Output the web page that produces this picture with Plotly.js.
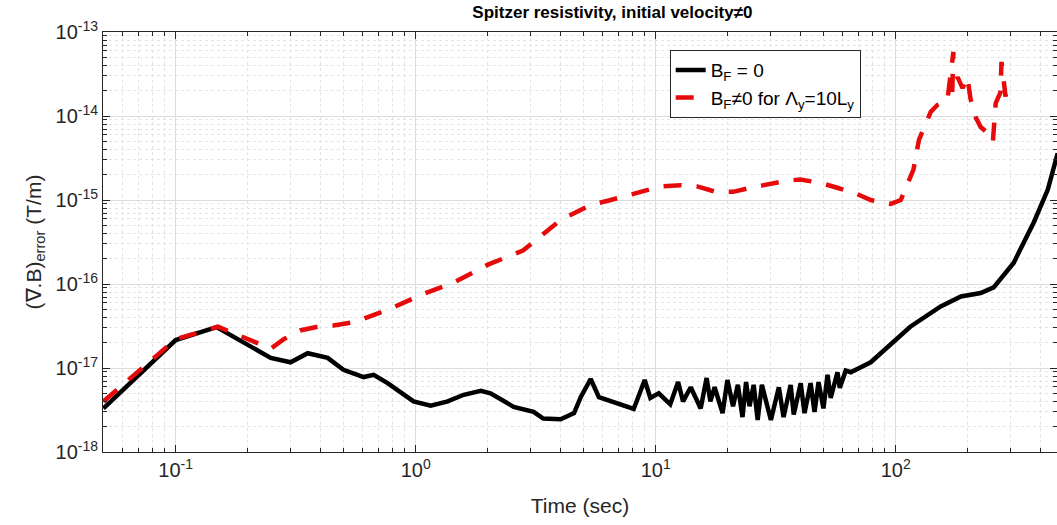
<!DOCTYPE html>
<html><head><meta charset="utf-8">
<script src="https://cdn.plot.ly/plotly-3.0.1.min.js"></script>
<style>html,body{margin:0;padding:0;background:#fff}#chart{width:1057px;height:525px}</style>
</head><body><div id="chart"></div>
<script>
// B_F = 0 (black solid)
const timeBF0 = [0.05, 0.1, 0.148, 0.249, 0.301, 0.355, 0.43, 0.5, 0.607, 0.668, 0.764, 0.98, 1.155, 1.36, 1.585, 1.87, 2.05, 2.56, 3.1, 3.4, 4.02, 4.57, 4.87, 5.36, 5.8, 6.5, 8.1, 9.0, 9.5, 10.3, 11.5, 12.4, 13.0, 14.0,
  15.4, 16.3, 16.9, 17.6, 19.0, 19.9, 21.0, 22.0, 23.0, 23.8, 24.6, 25.6, 26.6, 27.7, 30.2, 32.6, 34.1, 36.5, 37.6, 40.2, 41.7, 44.2, 45.9, 47.7, 50.0, 52.0, 53.6, 57.2, 58.5, 61.9, 65,
  78.7, 100, 115, 154, 187, 226, 256, 310, 376, 430, 473];
const errBF0 = [3.3e-18, 2.15e-17, 3.07e-17, 1.32e-17, 1.17e-17, 1.5e-17, 1.32e-17, 9.5e-18, 7.8e-18, 8.3e-18, 6.6e-18, 4.0e-18, 3.55e-18, 4.0e-18, 4.8e-18, 5.35e-18, 5.0e-18, 3.45e-18, 3.0e-18, 2.5e-18, 2.45e-18, 2.9e-18, 4.5e-18, 7.4e-18, 4.5e-18, 4.0e-18, 3.25e-18, 7.2e-18, 4.4e-18, 5.0e-18, 3.7e-18, 6.8e-18, 4.0e-18, 5.9e-18,
  3.3e-18, 7.6e-18, 4.0e-18, 5.9e-18, 2.9e-18, 7.2e-18, 3.5e-18, 6.3e-18, 2.6e-18, 6.8e-18, 3.5e-18, 6.3e-18, 2.4e-18, 6.3e-18, 2.4e-18, 5.9e-18, 2.6e-18, 6.3e-18, 2.8e-18, 6.6e-18, 2.9e-18, 6.6e-18, 3.0e-18, 6.8e-18, 3.3e-18, 8.3e-18, 4.4e-18, 8.9e-18, 5.8e-18, 9.3e-18, 8.9e-18,
  1.17e-17, 2.15e-17, 3.1e-17, 5.4e-17, 7.1e-17, 7.8e-17, 9.1e-17, 1.78e-16, 5.4e-16, 1.32e-15, 3.6e-15];

// B_F != 0 for Lambda_y = 10 L_y (red dashed)
const timeBF = [0.05, 0.1, 0.15, 0.249, 0.282, 0.33, 0.40, 0.455, 0.55, 0.764, 1.05, 1.44, 2.0, 2.8, 4.02, 5.36, 6.5, 9.3, 10.5, 12.7, 14.9, 17.8, 21, 24.9, 29.2, 35.4, 40, 48.6, 57, 68, 78.7, 95.5, 105, 118.6, 125, 140, 149, 164, 174, 172, 181, 190, 199, 205, 216, 226, 241, 254, 261, 273, 276, 287, 291];
const errBF = [4.0e-18, 2.2e-17, 3.1e-17, 1.7e-17, 2.2e-17, 2.8e-17, 3.15e-17, 3.2e-17, 3.5e-17, 4.9e-17, 7.4e-17, 1.04e-16, 1.7e-16, 2.5e-16, 5.8e-16, 8.7e-16, 1.0e-15, 1.35e-15, 1.45e-15, 1.5e-15, 1.45e-15, 1.25e-15, 1.25e-15, 1.4e-15, 1.55e-15, 1.7e-15, 1.75e-15, 1.6e-15, 1.4e-15, 1.2e-15, 1.0e-15, 0.9e-15, 1.0e-15, 2.3e-15, 5.2e-15, 1.12e-14, 1.35e-14, 1.5e-14, 5.8e-14, 1.9e-14, 2.9e-14, 2.15e-14, 2.9e-14, 1.6e-14, 9.5e-15, 7.4e-15, 6.3e-15, 4.9e-15, 1.42e-14, 1.9e-14, 4.4e-14, 1.7e-14, 2.5e-14];

const xTickVals = [0.1, 1, 10, 100];
const xTickText = ['10<sup>-1</sup>', '10<sup>0</sup>', '10<sup>1</sup>', '10<sup>2</sup>'];
const yTickVals = [1e-18, 1e-17, 1e-16, 1e-15, 1e-14, 1e-13];
const yTickText = ['10<sup>-18</sup>', '10<sup>-17</sup>', '10<sup>-16</sup>', '10<sup>-15</sup>', '10<sup>-14</sup>', '10<sup>-13</sup>'];

// minor (2..9 per decade) positions for the log grid
function minorVals(e0, e1) {
  const out = [];
  for (let e = e0; e <= e1; e++) for (let m = 2; m <= 9; m++) out.push(m * Math.pow(10, e));
  return out;
}

const FONT = 'Liberation Sans, Arial, sans-serif';
const traces = [
  {x: timeBF0, y: errBF0, type: 'scatter', mode: 'lines', name: 'B<sub>F</sub> = 0',
   line: {color: '#000000', width: 4.5}},
  {x: timeBF, y: errBF, type: 'scatter', mode: 'lines', name: 'B<sub>F</sub>\u22600 for \u039B<sub>y</sub>=10L<sub>y</sub>',
   line: {color: 'rgb(230,10,10)', width: 4.5, dash: '18px,15px'}}
];
function axisCommon(minorTicks) {
  return {
    showline: true, mirror: 'ticks', linecolor: '#262626', linewidth: 1,
    ticks: 'inside', ticklen: 7, tickcolor: '#262626',
    showgrid: true, gridcolor: '#dcdcdc', gridwidth: 1, zeroline: false,
    tickfont: {family: FONT, size: 20, color: '#262626'},
    minor: {tickmode: 'array', tickvals: minorTicks, ticks: 'inside', ticklen: 4, tickcolor: '#262626',
            showgrid: true, gridcolor: '#e4e4e4', griddash: 'dot', gridwidth: 1}
  };
}
const layout = {
  width: 1057, height: 525,
  margin: {l: 103, r: 0, t: 32, b: 73},
  paper_bgcolor: '#ffffff', plot_bgcolor: '#ffffff',
  font: {family: FONT, color: '#262626'},
  title: {text: '<b>Spitzer resistivity, initial velocity\u22600</b>', font: {family: FONT, size: 17, color: '#000'},
          x: 0.534, xref: 'paper', xanchor: 'center', y: 0.978, yanchor: 'middle'},
  xaxis: Object.assign(axisCommon(minorVals(-2, 2)), {
    type: 'log', range: [Math.log10(0.0498), Math.log10(470)],
    tickvals: xTickVals, ticktext: xTickText,
    title: {text: 'Time (sec)', font: {family: FONT, size: 21, color: '#262626'}, standoff: 18}
  }),
  yaxis: Object.assign(axisCommon(minorVals(-18, -14)), {
    type: 'log', range: [-18, -13],
    tickvals: yTickVals, ticktext: yTickText,
    title: {text: '(\u2207.B)<sub>error</sub> (T/m)', font: {family: FONT, size: 21, color: '#262626'}, standoff: 8}
  }),
  showlegend: true,
  legend: {x: 0.594, y: 0.957, xanchor: 'left', yanchor: 'top', bgcolor: '#ffffff',
           bordercolor: '#262626', borderwidth: 1, font: {family: FONT, size: 19, color: '#000'},
           itemwidth: 30, tracegroupgap: 2}
};
Plotly.newPlot('chart', traces, layout, {displayModeBar: false, staticPlot: true});
</script>
</body></html>
